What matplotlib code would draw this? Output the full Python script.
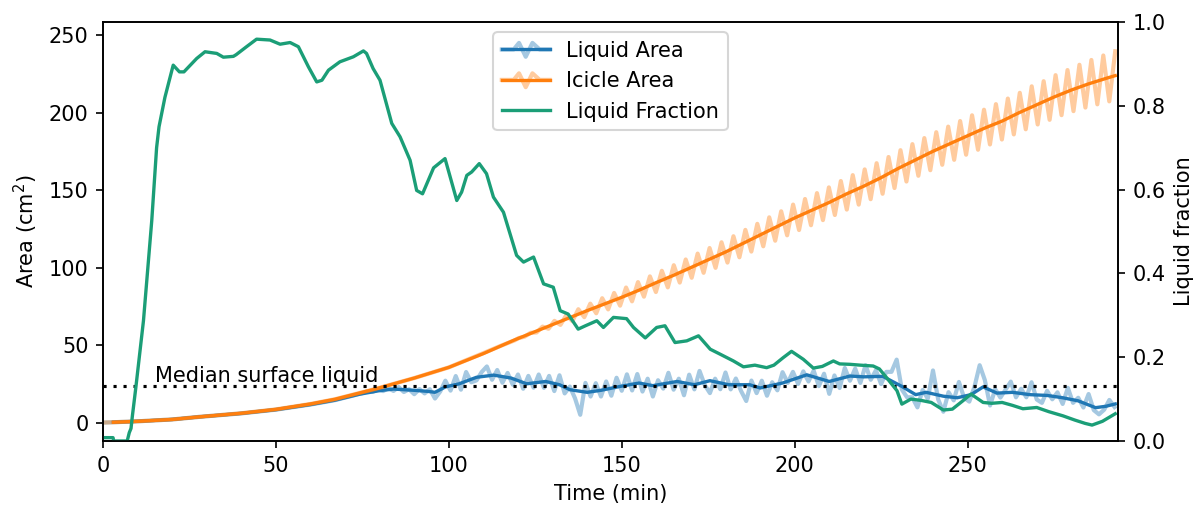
import numpy as np
import matplotlib
matplotlib.use("Agg")
import matplotlib.pyplot as plt
from matplotlib.lines import Line2D
from matplotlib.legend_handler import HandlerBase

# ---------------- data ----------------
# Icicle area, smoothed (cm^2)
icicle_t = [3, 10, 20, 28, 40, 50, 60, 67, 79, 90, 100, 110, 119, 125, 130, 135, 140,
            145, 150, 155, 160, 165, 170, 175, 180, 185, 190, 195, 200, 205, 210, 215,
            220, 225, 230, 235, 240, 245, 250, 255, 260, 265, 270, 275, 280, 285, 290, 292.7]
icicle_smooth = [0.2, 0.8, 2.0, 3.7, 6.0, 8.5, 12.0, 15.0, 21.8, 28.7, 35.6, 44.5, 53.3,
                 58.7, 63.2, 67.7, 72.2, 76.5, 80.8, 85.4, 90.3, 95.0, 100.0, 105.0, 110.0,
                 115.5, 121.0, 126.5, 132.0, 137.0, 142.0, 147.5, 152.5, 158.0, 164.0, 169.5,
                 175.0, 180.0, 185.0, 190.0, 194.5, 200.0, 205.0, 210.0, 214.5, 218.5, 222.0,
                 223.8]

# Icicle area, raw: early part, then successive peaks / troughs of the oscillation
icicle_raw_early_t = [0, 3, 10, 20, 28, 40, 50, 60, 67, 79, 90, 100, 105, 110, 115, 119,
                      120.2, 121.9, 123.65]
icicle_raw_early = [0.0, 0.2, 0.8, 2.0, 3.7, 6.0, 8.5, 12.0, 15.0, 21.8, 28.7, 35.6, 40.2,
                    44.8, 49.5, 53.0, 54.5, 55.4, 57.9]
icicle_osc = [58.1, 61.9, 60.5, 65.6, 63.0, 69.4, 65.4, 73.1, 68.0, 76.7,
              70.5, 80.2, 73.0, 83.6, 75.4, 87.1, 78.2, 90.6, 81.2, 94.3,
              84.2, 97.9, 87.2, 101.5, 90.3, 105.2, 93.4, 109.0, 96.6, 112.6,
              99.8, 116.3, 103.2, 120.2, 106.6, 124.3, 110.3, 128.2, 113.7, 132.4,
              117.3, 136.3, 120.8, 140.6, 124.2, 144.2, 127.3, 148.0, 130.6, 151.7,
              133.9, 155.8, 137.4, 159.6, 140.6, 163.3, 144.1, 167.3, 147.6, 171.3,
              151.3, 175.7, 155.5, 179.6, 159.2, 183.5, 162.8, 187.3, 166.3, 190.9,
              169.5, 194.5, 172.8, 198.2, 176.0, 201.8, 179.4, 205.4, 182.6, 209.0,
              185.9, 212.7, 189.2, 216.9, 192.3, 220.2, 195.3, 224.1, 198.3, 227.4,
              200.9, 230.8, 203.2, 233.9, 205.3, 236.8, 207.2, 239.5]
icicle_osc_t = 125.375 + 1.725 * np.arange(len(icicle_osc))

# Liquid area, smoothed (cm^2)
liquid_t = [3, 10, 20, 28, 40, 50, 60, 67, 74, 80, 84, 90, 94, 96, 99, 103, 108, 113, 118,
            122.5, 128, 132, 135, 140, 144, 149.5, 155, 159, 166, 171, 175.5, 181, 187, 190,
            196.5, 203.5, 210, 216, 220, 225.5, 231, 235, 238, 243, 247, 251, 254.5, 258.5,
            263, 268, 273, 277.5, 282, 287, 290, 292.7]
liquid_smooth = [0.2, 0.8, 2.0, 3.7, 5.9, 8.3, 11.6, 14.4, 18.2, 20.6, 21.6, 20.8, 20.1,
                 19.5, 23.0, 25.0, 29.2, 30.6, 28.7, 25.0, 26.5, 24.4, 21.2, 19.5, 20.8,
                 23.3, 25.5, 23.8, 26.5, 24.4, 27.0, 24.4, 24.4, 22.3, 25.5, 30.8, 26.5,
                 30.0, 29.5, 29.8, 23.3, 18.0, 19.5, 17.0, 16.0, 18.0, 23.0, 19.0, 19.5,
                 18.0, 17.5, 16.0, 14.0, 9.6, 10.5, 12.0]

# Liquid area, raw
liquid_raw_early_t = [0, 3, 10, 20, 28, 40, 50, 60, 67, 72]
liquid_raw_early = [0.0, 0.2, 0.8, 2.0, 3.7, 5.9, 8.3, 11.6, 14.4, 17.2]
liquid_raw = [19.0, 20.1, 19.8, 21.3, 20.3, 22.2, 20.4, 22.9, 19.7, 21.5,
              18.3, 21.6, 18.8, 21.5, 15.5, 20.0, 27.0, 20.6, 30.0, 21.2,
              32.6, 26.0, 27.2, 32.6, 36.2, 27.6, 33.9, 25.7, 32.0, 24.4,
              31.0, 21.8, 30.1, 22.5, 31.0, 22.4, 30.1, 20.3, 30.5, 18.8,
              23.2, 15.6, 5.0, 25.6, 16.8, 25.4, 16.8, 26.5, 17.3, 28.9,
              20.5, 31.1, 20.7, 31.3, 20.0, 28.3, 16.8, 27.3, 21.9, 32.1,
              21.2, 28.3, 17.6, 30.9, 21.4, 33.3, 24.2, 19.0, 28.3, 21.5,
              32.3, 21.4, 28.4, 20.4, 13.9, 27.1, 19.0, 27.0, 17.3, 26.0,
              20.8, 32.5, 25.6, 32.7, 24.9, 33.0, 26.5, 33.5, 23.5, 31.5,
              18.5, 30.4, 22.3, 35.2, 27.0, 34.8, 25.6, 37.0, 27.6, 33.7,
              24.8, 32.7, 32.7, 40.6, 21.3, 16.3, 16.3, 9.8, 21.0, 15.4,
              33.6, 14.9, 7.0, 19.6, 14.3, 26.2, 16.0, 13.5, 23.1, 37.0,
              27.4, 11.0, 21.5, 16.1, 21.3, 26.4, 16.3, 21.8, 16.3, 26.0,
              14.9, 12.7, 20.5, 15.0, 19.5, 12.0, 22.4, 12.7, 16.0, 9.7,
              18.4, 8.0, 5.3, 8.3, 14.6, 10.0]
liquid_raw_t = np.arange(75, 293, 1.5)

# Liquid fraction (right axis)
frac_t = [0, 2.9, 3.1, 7.0, 7.6, 8.1, 8.5, 9.5, 11.7, 14.1, 15.5, 16.2, 17.9, 20.3, 22.1,
          23.4, 27.1, 29.5, 32.9, 34.8, 37.7, 38.5, 41.5, 44.4, 48.3, 51.2, 54.1, 56.5,
          59.4, 61.8, 63.3, 65.2, 68.5, 72.4, 75.3, 76.2, 78.1, 80.1, 83.5, 85.9, 88.8,
          90.7, 92.4, 95.6, 98.9, 100.4, 102.3, 103.7, 105.2, 106.6, 108.8, 110.9, 112.9,
          115.8, 119.6, 121.6, 124.5, 127.4, 130.2, 132.2, 134.5, 137.4, 139.5, 142.8,
          144.7, 147.6, 151.4, 153.4, 156.8, 160.1, 162.5, 165.4, 168.8, 172.2, 175.6,
          178.5, 182.3, 185.2, 188.5, 191.9, 194.0, 196.7, 199.1, 202.5, 205.4, 208.0,
          211.2, 213.0, 216.0, 219.0, 222.7, 224.5, 226.6, 229.6, 231.0, 233.6, 236.5,
          239.5, 243.0, 245.6, 248.5, 251.0, 254.5, 257.0, 260.0, 263.0, 266.0, 270.0,
          273.5, 277.6, 281.0, 284.0, 286.0, 289.0, 292.7]
frac = [0.008, 0.008, 0.0, 0.0, 0.02, 0.03, 0.06, 0.128, 0.287, 0.526, 0.70, 0.75, 0.82,
        0.897, 0.881, 0.881, 0.913, 0.929, 0.925, 0.916, 0.918, 0.922, 0.941, 0.959, 0.957,
        0.947, 0.951, 0.941, 0.893, 0.857, 0.861, 0.885, 0.905, 0.917, 0.931, 0.925, 0.889,
        0.861, 0.758, 0.726, 0.67, 0.598, 0.59, 0.652, 0.674, 0.63, 0.574, 0.594, 0.634,
        0.642, 0.662, 0.638, 0.582, 0.546, 0.443, 0.427, 0.439, 0.375, 0.367, 0.311, 0.303,
        0.267, 0.275, 0.287, 0.271, 0.295, 0.292, 0.271, 0.246, 0.271, 0.275, 0.235, 0.239,
        0.251, 0.219, 0.207, 0.191, 0.177, 0.181, 0.175, 0.181, 0.199, 0.214, 0.195, 0.174,
        0.178, 0.191, 0.184, 0.183, 0.181, 0.179, 0.172, 0.151, 0.12, 0.088, 0.10, 0.097,
        0.092, 0.074, 0.076, 0.095, 0.112, 0.092, 0.090, 0.092, 0.085, 0.077, 0.080, 0.070,
        0.060, 0.050, 0.042, 0.038, 0.047, 0.065]

median_liquid = 23.5

# ---------------- plotting ----------------
BLUE = "#1f77b4"
ORANGE = "#ff7f0e"
GREEN = "#1b9e77"

plt.rcParams["font.family"] = ["DejaVu Sans"]
plt.rcParams["font.size"] = 10

fig = plt.figure(figsize=(1196 / 150, 506 / 150), dpi=150)
ax = fig.add_axes([103 / 1196, 65 / 506, 1015 / 1196, 419 / 506])

ax.plot(np.concatenate([liquid_raw_early_t, liquid_raw_t]),
        np.concatenate([liquid_raw_early, liquid_raw]),
        color=BLUE, alpha=0.4, lw=2.0)
ax.plot(liquid_t, liquid_smooth, color=BLUE, lw=1.6)
ax.plot(np.concatenate([icicle_raw_early_t, icicle_osc_t]),
        np.concatenate([icicle_raw_early, icicle_osc]),
        color=ORANGE, alpha=0.4, lw=2.0)
ax.plot(icicle_t, icicle_smooth, color=ORANGE, lw=1.6)
ax.axhline(median_liquid, color="black", ls=(0, (1, 2.2)), lw=1.5)
ax.text(15, median_liquid + 2.5, "Median surface liquid", fontsize=10, va="baseline")

ax.set_xlim(0, 293.5)
ax.set_ylim(-11.9, 258.4)
ax.set_xlabel("Time (min)")
ax.set_ylabel("Area (cm$^2$)")

ax2 = ax.twinx()
ax2.plot(frac_t, frac, color=GREEN, lw=1.6)
ax2.set_ylim(0, 1.0)
ax2.set_ylabel("Liquid fraction")


class ZigzagHandler(HandlerBase):
    def __init__(self, color):
        super().__init__()
        self.color = color

    def create_artists(self, legend, orig_handle, xdescent, ydescent, width, height,
                       fontsize, trans):
        x0 = -xdescent
        mid = height / 2 - ydescent
        fx = np.array([0, 0.25, 0.36, 0.5, 0.64, 0.79, 1.0])
        fy = np.array([0, 0, 0.45, -0.5, 0.45, 0, 0])
        zig = Line2D(x0 + fx * width, mid + fy * height, color=self.color, alpha=0.4,
                     lw=2.0, transform=trans)
        straight = Line2D([x0, x0 + width], [mid, mid], color=self.color, lw=1.6,
                          transform=trans)
        return [zig, straight]


h_liq = Line2D([], [], color=BLUE)
h_ice = Line2D([], [], color=ORANGE)
h_frac = Line2D([], [], color=GREEN, lw=1.6)
ax2.legend([h_liq, h_ice, h_frac], ["Liquid Area", "Icicle Area", "Liquid Fraction"],
           loc="upper center", handlelength=2.3,
           handler_map={h_liq: ZigzagHandler(BLUE), h_ice: ZigzagHandler(ORANGE)})

fig.savefig("out.png", dpi=150)
